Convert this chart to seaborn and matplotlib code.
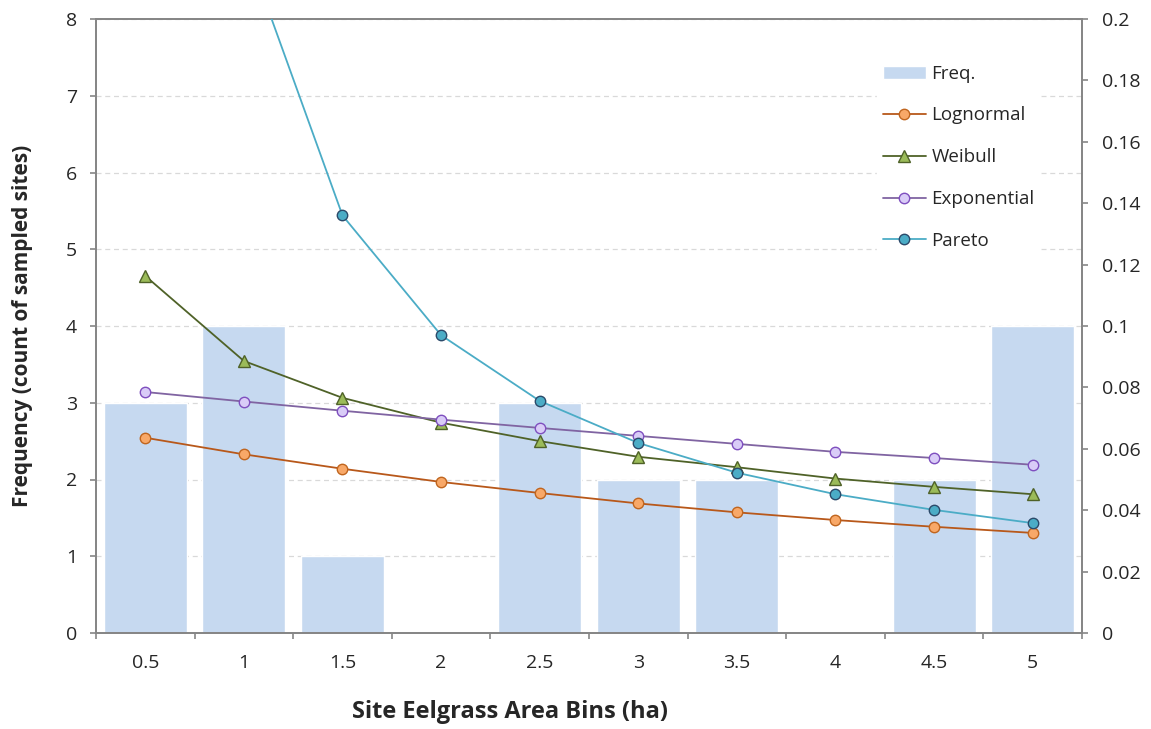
import numpy as np
import pandas as pd
import matplotlib
matplotlib.use("Agg")
import matplotlib.pyplot as plt
import seaborn as sns
from matplotlib.ticker import FuncFormatter, FixedLocator

# Bin labels and observed counts
bins = ["0.5", "1", "1.5", "2", "2.5", "3", "3.5", "4", "4.5", "5"]
freq = [3, 4, 1, 0, 3, 2, 2, 0, 2, 4]

# Fitted probability densities per bin (right axis)
lognormal = [0.0636, 0.0582, 0.0535, 0.0492, 0.0456, 0.0422, 0.0393, 0.0368, 0.0346, 0.0326]
weibull = [0.1163, 0.0886, 0.0766, 0.0685, 0.0625, 0.0574, 0.0540, 0.0503, 0.0476, 0.0452]
exponential = [0.0785, 0.0754, 0.0724, 0.0695, 0.0668, 0.0642, 0.0616, 0.0590, 0.0570, 0.0548]
pareto = [np.nan, 0.225, 0.136, 0.097, 0.0756, 0.0619, 0.0522, 0.0452, 0.0401, 0.0358]

sns.set_style("ticks")
plt.rcParams["font.family"] = ["Open Sans", "DejaVu Sans"]

AXIS_GREY = "#868686"
FS = 14

W, H = 1151, 729
fig = plt.figure(figsize=(W / 100, H / 100), dpi=100)
ax_l, ax_r, ax_t, ax_b = 96, 1082, 19, 633
ax = fig.add_axes([ax_l / W, (H - ax_b) / H, (ax_r - ax_l) / W, (ax_b - ax_t) / H])
ax_w, ax_h = ax_r - ax_l, ax_b - ax_t

df = pd.DataFrame({"bin": bins, "freq": freq})
sns.barplot(data=df, x="bin", y="freq", color="#C6D9F0", saturation=1,
            width=0.84, ax=ax, zorder=2)

ax.set_xlim(-0.5, len(bins) - 0.5)
ax.set_ylim(0, 8)
ax.set_yticks(range(0, 9))
ax.yaxis.grid(True, linestyle=(0, (4, 3)), color="#D9D9D9", linewidth=0.9)
ax.set_axisbelow(True)

# Category labels centred, tick marks on the bin boundaries
pos = np.arange(len(bins))
ax.xaxis.set_major_locator(FixedLocator(pos))
ax.set_xticklabels(bins)
ax.xaxis.set_minor_locator(FixedLocator(np.arange(-0.5, len(bins), 1.0)))
ax.tick_params(axis="x", which="major", length=0, pad=15, labelsize=FS)
ax.tick_params(axis="x", which="minor", length=4.5, width=1.2, color=AXIS_GREY)
ax.tick_params(axis="y", length=4.5, width=1.2, color=AXIS_GREY, labelsize=FS, pad=9)

ax.set_xlabel("Site Eelgrass Area Bins (ha)", fontsize=17, fontweight="bold")
ax.set_ylabel("Frequency (count of sampled sites)", fontsize=15, fontweight="bold")
ax.xaxis.set_label_coords((510 - ax_l) / ax_w, (ax_b - 700) / ax_h)
ax.yaxis.set_label_coords((33 - ax_l) / ax_w, 0.5)

for side in ["left", "right", "top", "bottom"]:
    ax.spines[side].set_visible(True)
    ax.spines[side].set_color(AXIS_GREY)
    ax.spines[side].set_linewidth(1.3)

ax2 = ax.twinx()
series = [
    ("Lognormal", lognormal, "#B8581A", "o", "#F8A868", "#C0651E", 7.5),
    ("Weibull", weibull, "#4F6228", "^", "#9BBB59", "#4F6228", 9),
    ("Exponential", exponential, "#8064A2", "o", "#D9CCF7", "#7F4FBF", 7.5),
    ("Pareto", pareto, "#4BACC6", "o", "#4BACC6", "#2B4A6A", 7.5),
]
for name, vals, lc, mk, mfc, mec, ms in series:
    sns.lineplot(x=pos, y=vals, ax=ax2, color=lc, linewidth=1.3, marker=mk,
                 markersize=ms, markerfacecolor=mfc, markeredgecolor=mec,
                 markeredgewidth=1.0, label=name, legend=False, zorder=3)

ax2.set_ylim(0, 0.2)
ax2.set_yticks(np.round(np.arange(0, 0.201, 0.02), 2))
ax2.yaxis.set_major_formatter(FuncFormatter(lambda v, p: f"{v:g}"))
ax2.tick_params(axis="y", length=4.5, width=1.2, color=AXIS_GREY, labelsize=FS, pad=10)
ax2.set_ylabel("")
for side in ["left", "right", "top", "bottom"]:
    ax2.spines[side].set_color(AXIS_GREY)
    ax2.spines[side].set_linewidth(1.3)

if ax.get_legend() is not None:
    ax.get_legend().remove()

handles = [ax.patches[0]] + ax2.get_lines()
labels = ["Freq."] + [s[0] for s in series]
leg = ax2.legend(handles, labels, loc="upper left",
                 bbox_to_anchor=((877 - ax_l) / ax_w, 1 - 40 / ax_h), frameon=True,
                 fontsize=13.5, handlelength=2.3, labelspacing=1.27,
                 handletextpad=0.3, borderpad=0.3, borderaxespad=0)
leg.get_frame().set_facecolor("white")
leg.get_frame().set_edgecolor("white")
leg.get_frame().set_alpha(1)
leg.get_frame().set_boxstyle("square", pad=0)

fig.savefig("out.png", dpi=100)
